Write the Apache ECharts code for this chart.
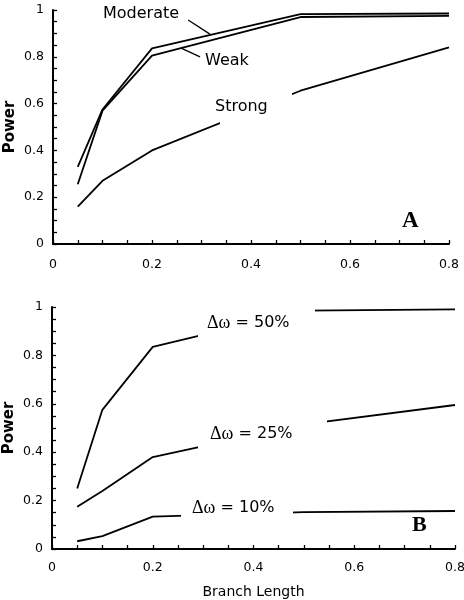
<!DOCTYPE html>
<html>
<head>
<meta charset="utf-8">
<style>html,body{margin:0;padding:0;background:#fff;}#c{width:464px;height:600px;}</style>
<script src="https://cdn.jsdelivr.net/npm/echarts@6/dist/echarts.min.js"></script>
</head>
<body>
<div id="c"></div>
<script>
// ---- data ----
const branchLengths = [0.05, 0.1, 0.2, 0.5, 0.8];
const moderatePower = [0.33, 0.575, 0.836, 0.982, 0.985];
const weakPower     = [0.255, 0.57, 0.805, 0.97, 0.975];
const strongPower   = [0.16, 0.27, 0.40, 0.655, 0.84];
const dw50Power     = [0.25, 0.575, 0.835, 0.985, 0.99];
const dw25Power     = [0.175, 0.24, 0.38, 0.515, 0.595];
const dw10Power     = [0.032, 0.053, 0.134, 0.152, 0.157];
const xTicks = [0, 0.2, 0.4, 0.6, 0.8];
const yTicks = [0, 0.2, 0.4, 0.6, 0.8, 1];

const pairs = ys => branchLengths.map((x, i) => [x, ys[i]]);
const FONT = 'DejaVu Sans';

function xAxis(gi, margin) {
  return {
    type: 'value', gridIndex: gi, min: xTicks[0], max: xTicks[xTicks.length - 1], interval: 0.2,
    axisLine: {onZero: false, lineStyle: {color: '#000', width: 2}},
    axisTick: {inside: true, length: 4, lineStyle: {color: '#000', width: 1.3}},
    minorTick: {show: true, splitNumber: 4, length: 4, lineStyle: {color: '#000', width: 1.3}},
    splitLine: {show: false},
    axisLabel: {color: '#000', fontFamily: FONT, fontSize: 12.5, margin: margin}
  };
}
function yAxis(gi, name, gap) {
  return {
    type: 'value', gridIndex: gi, min: yTicks[0], max: yTicks[yTicks.length - 1], interval: 0.2,
    name: name, nameLocation: 'middle', nameGap: gap, nameRotate: 90, nameMoveOverlap: false,
    nameTextStyle: {color: '#000', fontFamily: FONT, fontSize: 15, fontWeight: 'bold'},
    axisLine: {show: true, lineStyle: {color: '#000', width: 2}},
    axisTick: {inside: true, length: 4, lineStyle: {color: '#000', width: 1.3}},
    minorTick: {show: true, splitNumber: 4, length: 4, lineStyle: {color: '#000', width: 1.3}},
    splitLine: {show: false},
    axisLabel: {color: '#000', fontFamily: FONT, fontSize: 12.5, margin: 9}
  };
}
function lineSeries(xi, ys, extra) {
  return Object.assign({
    type: 'line', xAxisIndex: xi, yAxisIndex: xi, data: pairs(ys),
    symbol: 'none', lineStyle: {width: 1.8}, silent: true, animation: false
  }, extra || {});
}
function gapMap(si, from, to) {
  return {
    type: 'piecewise', show: false, seriesIndex: si, dimension: 0,
    pieces: [
      {lt: from, color: '#000'},
      {gte: from, lte: to, color: 'rgba(255,255,255,0)'},
      {gt: to, color: '#000'}
    ]
  };
}
const blackMap = si => ({type: 'piecewise', show: false, seriesIndex: si, dimension: 0,
  pieces: [{gte: -1, lte: 2, color: '#000'}]});

const leader = (a, b) => ({
  silent: true, symbol: 'none', animation: false,
  lineStyle: {color: '#000', width: 1.3, type: 'solid'}, label: {show: false},
  data: [[{coord: a}, {coord: b}]]
});

function txt(x, y, text, size, family, weight, rich) {
  return {type: 'text', x: x, y: y, style: {
    text: text, fill: '#000', fontSize: size, fontFamily: family || FONT, fontWeight: weight || 'normal',
    textAlign: 'left', textVerticalAlign: 'middle', rich: rich || undefined}};
}
const dRich = {g: {fontFamily: 'Liberation Serif', fontSize: 18, fill: '#000'}};

const chart = echarts.init(document.getElementById('c'), null, {renderer: 'canvas'});
chart.setOption({
  backgroundColor: '#fff',
  animation: false,
  grid: [
    {left: 53, top: 10, width: 396, height: 234, containLabel: false, outerBoundsMode: 'none'},
    {left: 52, top: 307, width: 403, height: 242, containLabel: false, outerBoundsMode: 'none'}
  ],
  xAxis: [xAxis(0, 14), Object.assign(xAxis(1, 12), {
    name: 'Branch Length', nameLocation: 'middle', nameGap: 36, nameMoveOverlap: false,
    nameTextStyle: {color: '#000', fontFamily: FONT, fontSize: 14}})],
  yAxis: [yAxis(0, 'Power', 35), yAxis(1, 'Power', 35)],
  visualMap: [
    blackMap(0), blackMap(1),
    gapMap(2, 0.337, 0.483),
    gapMap(3, 0.29, 0.522),
    gapMap(4, 0.29, 0.546),
    gapMap(5, 0.257, 0.479)
  ],
  series: [
    lineSeries(0, moderatePower, {markLine: leader([0.273, 0.957], [0.317, 0.897])}),
    lineSeries(0, weakPower, {markLine: leader([0.26, 0.836], [0.297, 0.80])}),
    lineSeries(0, strongPower),
    lineSeries(1, dw50Power),
    lineSeries(1, dw25Power),
    lineSeries(1, dw10Power)
  ],
  graphic: [
    txt(103, 14, 'Moderate', 16),
    txt(205, 61, 'Weak', 16),
    txt(215, 107, 'Strong', 16),
    txt(402, 221, 'A', 23, 'Liberation Serif', 'bold'),
    txt(207, 323, '{g|Δω} = 50%', 16, FONT, 'normal', dRich),
    txt(210, 434, '{g|Δω} = 25%', 16, FONT, 'normal', dRich),
    txt(192, 508, '{g|Δω} = 10%', 16, FONT, 'normal', dRich),
    txt(412, 525, 'B', 22, 'Liberation Serif', 'bold')
  ]
});
</script>
</body>
</html>
